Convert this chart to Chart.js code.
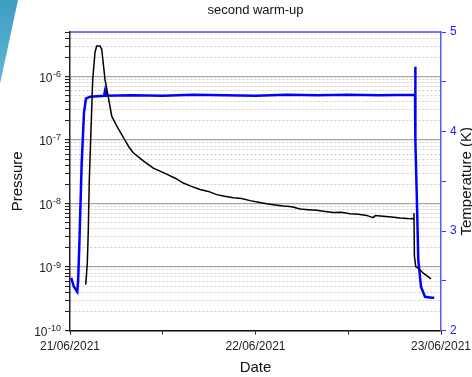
<!DOCTYPE html>
<html>
<head>
<meta charset="utf-8">
<script src="https://cdn.jsdelivr.net/npm/chart.js@4.4.0/dist/chart.umd.min.js"></script>
<style>
  html, body { margin: 0; padding: 0; background: #fff; }
</style>
</head>
<body>
<canvas id="myChart" width="472" height="377"></canvas>
<script>
// hours since 21/06/2021 00:00
var dayLabels = ['21/06/2021', '22/06/2021', '23/06/2021'];
var decades = [-10, -9, -8, -7, -6];
var minorSteps = [1, 2, 3, 4, 5, 6, 7, 8, 9];
var tempTicks = [2, 3, 4, 5];

var pressureHours = [2.03, 2.24, 2.37, 2.50, 2.72, 2.94, 3.23, 3.45, 3.88, 4.10, 4.53, 4.96, 5.40, 6.04, 6.90,
  7.67, 8.19, 9.48, 10.78, 12.51, 13.6, 14.66, 15.7, 16.82, 17.9, 18.98, 20.0, 21.13, 22.2, 23.29, 24.4,
  25.45, 26.5, 27.60, 28.7, 29.76, 30.8, 31.92, 33.0, 34.07, 35.1, 36.23, 37.3, 38.39, 39.2, 39.5, 40.54,
  41.6, 42.70, 43.6, 44.42, 44.50, 44.56, 44.73, 45.06, 45.71, 46.71];
var pressure = [5.3e-10, 1.16e-9, 3.9e-9, 2.4e-8, 1.48e-7, 9.0e-7, 2.37e-6, 3.0e-6, 3.0e-6, 2.7e-6, 8.9e-7,
  4.7e-7, 2.37e-7, 1.66e-7, 1.1e-7, 7.6e-8, 6.3e-8, 4.7e-8, 3.6e-8, 2.9e-8, 2.5e-8, 2.1e-8, 1.86e-8,
  1.66e-8, 1.55e-8, 1.38e-8, 1.30e-8, 1.23e-8, 1.2e-8, 1.11e-8, 1.05e-8, 9.9e-9, 9.5e-9, 9.1e-9, 8.9e-9,
  8.2e-9, 8.0e-9, 7.8e-9, 7.5e-9, 7.2e-9, 7.3e-9, 6.9e-9, 6.75e-9, 6.5e-9, 6.0e-9, 6.45e-9, 6.3e-9,
  6.15e-9, 5.9e-9, 5.8e-9, 5.75e-9, 7.1e-9, 1.5e-9, 1.02e-9, 9.6e-10, 8.0e-10, 6.5e-10];

var tempHours = [0.15, 0.5, 0.94, 1.05, 1.2, 1.51, 1.81, 2.07, 2.59, 4.4, 4.53, 4.65, 8, 12, 16, 20, 24, 28,
  32, 36, 40, 44.64, 44.65, 44.72, 44.86, 45.06, 45.41, 45.93, 46.8, 47.13];
var temperature = [2.53, 2.44, 2.39, 2.5, 2.84, 3.68, 4.19, 4.33, 4.35, 4.36, 4.41, 4.36, 4.365, 4.36, 4.37,
  4.365, 4.36, 4.37, 4.365, 4.37, 4.365, 4.37, 4.65, 3.9, 3.38, 2.71, 2.44, 2.34, 2.33, 2.33];

var pMin = 1e-10, pMax = 5e-6;
var FONT = 'Liberation Sans, Arial, sans-serif';

function isDecade(v) {
  var l = Math.log10(v);
  return Math.abs(l - Math.round(l)) < 1e-6;
}
function pts(xs, ys) {
  return xs.map(function (x, i) { return { x: x, y: ys[i] }; });
}

var extras = {
  id: 'extras',
  beforeDraw: function (chart) {
    var c = chart.ctx;
    c.save();
    c.fillStyle = '#fff';
    c.fillRect(0, 0, chart.width, chart.height);
    var g = c.createLinearGradient(0, 80, 17, 0);
    g.addColorStop(0, '#5fb6d4');
    g.addColorStop(1, '#3f9cc2');
    c.fillStyle = g;
    c.beginPath();
    c.moveTo(0, 0); c.lineTo(18, 0); c.lineTo(0, 84); c.closePath();
    c.fill();
    c.restore();
  },
  afterDraw: function (chart) {
    var c = chart.ctx, a = chart.chartArea, ys = chart.scales.y;
    c.save();
    // top frame line
    c.strokeStyle = '#4a4aff';
    c.lineWidth = 1.5;
    c.beginPath(); c.moveTo(a.left, a.top); c.lineTo(a.right, a.top); c.stroke();
    // decade labels with superscript exponent
    c.fillStyle = '#222';
    decades.forEach(function (e) {
      var y = ys.getPixelForValue(Math.pow(10, e));
      var exp = String(e);
      c.font = '9px ' + FONT;
      var ew = c.measureText(exp).width;
      c.textAlign = 'left';
      c.textBaseline = 'alphabetic';
      c.fillText(exp, 61 - ew, y + 0.5);
      c.font = '12px ' + FONT;
      c.textAlign = 'right';
      c.textBaseline = 'alphabetic';
      c.fillText('10', 61 - ew - 0.5, y + 5.2);
    });
    // right axis title, reading bottom to top
    c.translate(467, (a.top + a.bottom) / 2);
    c.rotate(-Math.PI / 2);
    c.font = '15px ' + FONT;
    c.textAlign = 'center';
    c.textBaseline = 'middle';
    c.fillStyle = '#111';
    c.fillText('Temperature (K)', 0, 0);
    c.restore();
  }
};

var ctx = document.getElementById('myChart').getContext('2d');
var myChart = new Chart(ctx, {
  type: 'line',
  data: {
    datasets: [{
      label: 'Pressure',
      data: pts(pressureHours, pressure),
      yAxisID: 'y',
      borderColor: '#000',
      borderWidth: 1.5,
      pointRadius: 0,
      tension: 0
    }, {
      label: 'Temperature',
      data: pts(tempHours, temperature),
      yAxisID: 'yT',
      borderColor: '#0000ff',
      borderWidth: 2.5,
      pointRadius: 0,
      tension: 0
    }]
  },
  options: {
    responsive: false,
    animation: false,
    layout: { padding: 0 },
    plugins: {
      legend: { display: false },
      tooltip: { enabled: false },
      title: {
        display: true,
        text: 'second warm-up',
        fullSize: false,
        color: '#111',
        font: { family: FONT, size: 13, weight: 'normal' },
        padding: { top: 3, bottom: 13.4 }
      }
    },
    scales: {
      x: {
        type: 'linear',
        min: 0,
        max: 48,
        ticks: {
          stepSize: 12,
          autoSkip: false,
          maxRotation: 0,
          color: '#222',
          font: { family: FONT, size: 12 },
          padding: 5,
          callback: function (v) { return v % 24 === 0 ? dayLabels[v / 24] : ''; }
        },
        grid: { drawOnChartArea: false, tickLength: 4, tickColor: '#222', tickWidth: 1 },
        border: { color: '#111', width: 1.5 },
        title: { display: true, text: 'Date', color: '#111', font: { family: FONT, size: 15 }, padding: 0 },
        afterFit: function (s) { s.height = 46.4; s.paddingLeft = 0; s.paddingRight = 0; }
      },
      y: {
        type: 'logarithmic',
        position: 'left',
        min: pMin,
        max: pMax,
        afterBuildTicks: function (scale) {
          var t = [];
          decades.forEach(function (e) {
            minorSteps.forEach(function (m) {
              var v = m * Math.pow(10, e);
              if (v <= pMax * 1.0001) t.push({ value: v });
            });
          });
          scale.ticks = t;
        },
        ticks: { display: false, autoSkip: false },
        grid: {
          color: function (c) { return c.tick && isDecade(c.tick.value) ? '#a6a6a6' : '#cdcdcd'; },
          lineWidth: function (c) { return c.tick && isDecade(c.tick.value) ? 1.2 : 1; },
          tickLength: 5,
          tickColor: '#222'
        },
        border: {
          color: '#222',
          width: 1.5,
          dash: function (c) { return (c.type === 'tick' && !isDecade(c.tick.value)) ? [2, 2] : []; }
        },
        title: { display: true, text: 'Pressure', color: '#111', font: { family: FONT, size: 15 }, padding: { top: 9, bottom: 0 } },
        afterFit: function (s) { s.width = 70; }
      },
      yT: {
        type: 'linear',
        position: 'right',
        min: 2,
        max: 5,
        ticks: {
          stepSize: 0.5,
          autoSkip: false,
          color: '#2020ff',
          font: { family: FONT, size: 12 },
          padding: 4,
          callback: function (v) { return tempTicks.indexOf(v) >= 0 ? String(v) : ''; }
        },
        grid: { drawOnChartArea: false, tickLength: 5, tickColor: '#3a3aff' },
        border: { color: '#5a5aff', width: 1.5 },
        afterFit: function (s) { s.width = 31; }
      }
    }
  },
  plugins: [extras]
});
</script>
</body>
</html>
